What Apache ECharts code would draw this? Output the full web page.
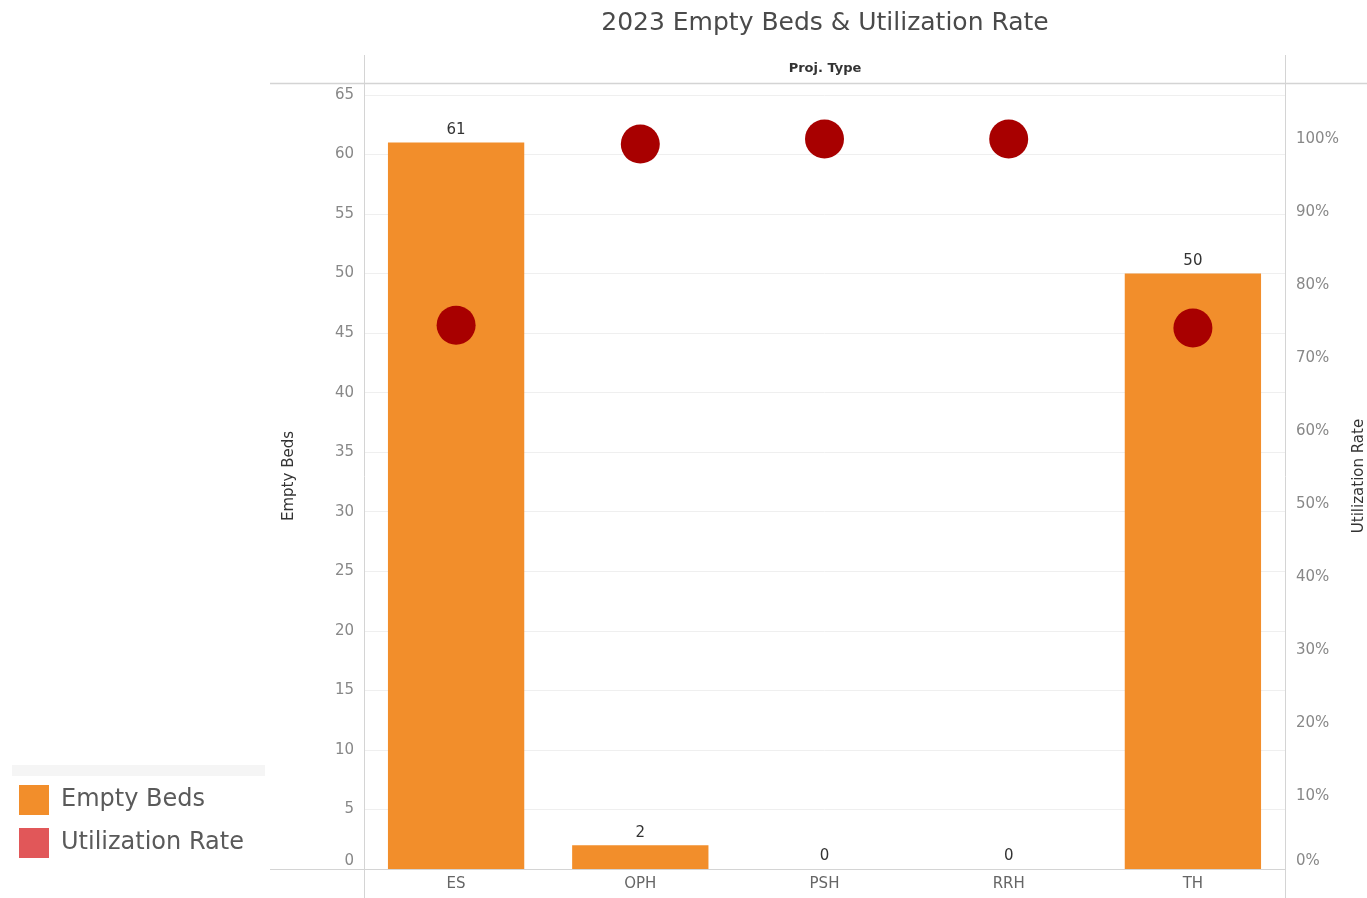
<!DOCTYPE html>
<html>
<head>
<meta charset="utf-8">
<script src="https://cdn.jsdelivr.net/npm/echarts@6/dist/echarts.min.js"></script>
<style>
html,body{margin:0;padding:0;background:#fff;}
#chart{width:1367px;height:898px;}
</style>
</head>
<body>
<div id="chart"></div>
<script>
const categories = ['ES', 'OPH', 'PSH', 'RRH', 'TH'];
const emptyBeds = [61, 2, 0, 0, 50];
const utilizationRate = [0.745, 0.993, 1.0, 1.0, 0.741];

const FONT = 'DejaVu Sans';
const chart = echarts.init(document.getElementById('chart'));

chart.setOption({
  animation: false,
  backgroundColor: '#ffffff',
  textStyle: { fontFamily: FONT },
  graphic: [
    { type: 'text', x: 825, y: 11, style: { text: '2023 Empty Beds & Utilization Rate', font: '25px "DejaVu Sans"', fill: '#4a4a4a', align: 'center', textAlign: 'center' } },
    { type: 'text', x: 825, y: 62, style: { text: 'Proj. Type', font: 'bold 13px "DejaVu Sans"', fill: '#333', align: 'center', textAlign: 'center' } },
    { type: 'line', shape: { x1: 364.5, y1: 55, x2: 364.5, y2: 898 }, style: { stroke: '#d4d4d4', lineWidth: 1 }, z: 10 },
    { type: 'line', shape: { x1: 1285.5, y1: 55, x2: 1285.5, y2: 898 }, style: { stroke: '#d4d4d4', lineWidth: 1 }, z: 10 },
    { type: 'line', shape: { x1: 270, y1: 83.5, x2: 1367, y2: 83.5 }, style: { stroke: '#d4d4d4', lineWidth: 1.5 }, z: 10 },
    { type: 'line', shape: { x1: 270, y1: 869.5, x2: 1285, y2: 869.5 }, style: { stroke: '#d4d4d4', lineWidth: 1 }, z: 10 },
    { type: 'rect', shape: { x: 12, y: 765, width: 253, height: 11 }, style: { fill: '#f5f5f5' } }
  ],
  legend: {
    orient: 'vertical', left: 14, top: 780,
    itemWidth: 30, itemHeight: 30, itemGap: 13,
    icon: 'rect',
    textStyle: { fontFamily: FONT, fontSize: 24, color: '#5a5a5a', padding: [3, 0, 0, 7] },
    data: [
      { name: 'Empty Beds', itemStyle: { color: '#F28E2B', opacity: 1 } },
      { name: 'Utilization Rate', itemStyle: { color: '#E15759', opacity: 1 } }
    ]
  },
  grid: { left: 364, right: 82, top: 83, bottom: 29, containLabel: false, outerBoundsMode: 'none' },
  xAxis: {
    type: 'category',
    data: categories,
    axisLine: { show: true, lineStyle: { color: '#d4d4d4', width: 1 } },
    axisTick: { show: false },
    axisLabel: { color: '#666', fontSize: 15, margin: 8, fontFamily: FONT },
    splitLine: { show: false }
  },
  yAxis: [
    {
      type: 'value', min: 0, max: 66, interval: 5,
      name: 'Empty Beds', nameLocation: 'middle', nameGap: 67, nameRotate: 90,
      nameTextStyle: { color: '#333', fontSize: 15, fontFamily: FONT },
      axisLine: { show: false }, axisTick: { show: false },
      axisLabel: {
        color: '#888', fontSize: 15, margin: 10, fontFamily: FONT,
        verticalAlignMinLabel: 'bottom',
        formatter: v => (v % 5 === 0 ? String(v) : '')
      },
      splitLine: { show: true, lineStyle: { color: '#efefef', width: 1 } }
    },
    {
      type: 'value', min: 0, max: 1.0767, interval: 0.1,
      name: 'Utilization Rate', nameLocation: 'middle', nameGap: 67, nameRotate: 90,
      nameTextStyle: { color: '#333', fontSize: 15, fontFamily: FONT },
      axisLine: { show: false }, axisTick: { show: false },
      axisLabel: {
        color: '#888', fontSize: 15, margin: 11, fontFamily: FONT,
        verticalAlignMinLabel: 'bottom',
        formatter: v => {
          const p = Math.round(v * 100);
          return Math.abs(v * 100 - p) < 1e-6 && p % 10 === 0 ? p + '%' : '';
        }
      },
      splitLine: { show: false }
    }
  ],
  series: [
    {
      name: 'Empty Beds', type: 'bar', yAxisIndex: 0,
      data: emptyBeds, barWidth: '74%',
      itemStyle: { color: '#F28E2B' },
      label: { show: true, position: 'top', distance: 5, color: '#333', fontSize: 15, fontFamily: FONT }
    },
    {
      name: 'Utilization Rate', type: 'scatter', yAxisIndex: 1,
      data: utilizationRate, symbol: 'circle', symbolSize: 39,
      itemStyle: { color: '#A80000', opacity: 1 }, z: 5
    }
  ]
});
</script>
</body>
</html>
